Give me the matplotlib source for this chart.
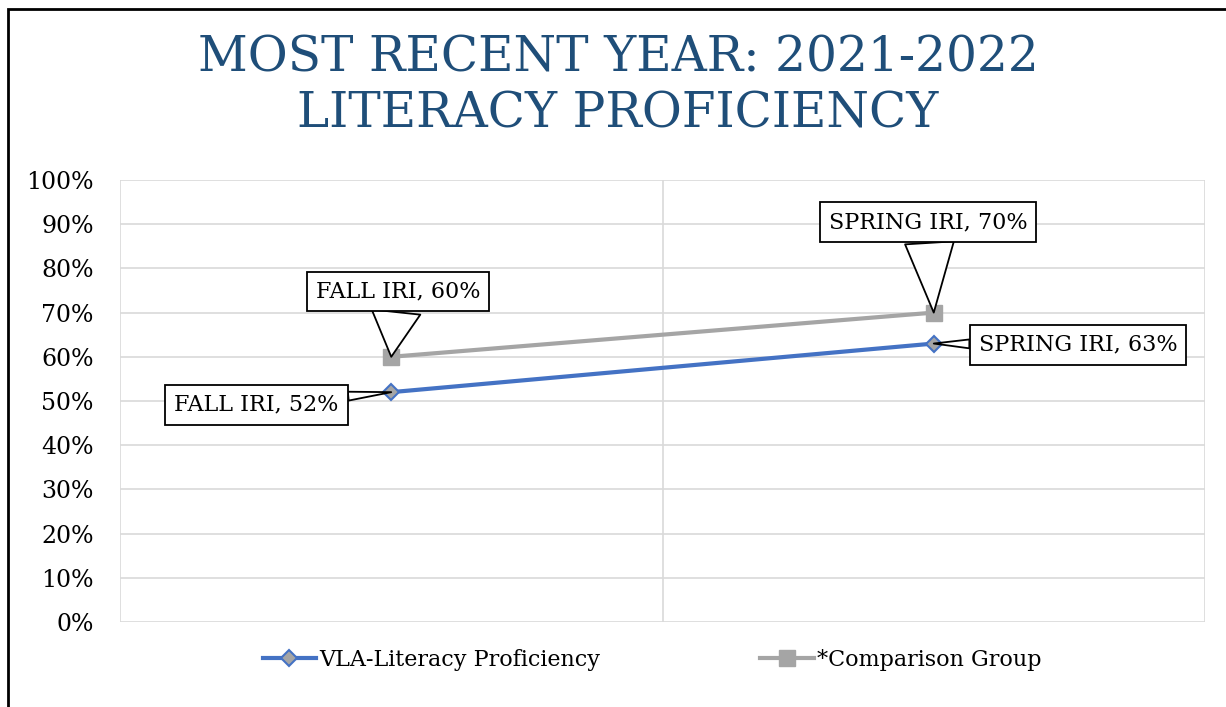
import matplotlib.pyplot as plt
from matplotlib.patches import Rectangle
from matplotlib.ticker import PercentFormatter

categories = ["FALL IRI", "SPRING IRI"]
vla_values = [52, 63]
comparison_values = [60, 70]
series_names = ["VLA-Literacy Proficiency", "*Comparison Group"]

BLUE = "#4472C4"
GRAY = "#A5A5A5"
TITLE = "#1F4E79"

plt.rcParams['font.family'] = ['DejaVu Serif']

fig = plt.figure(figsize=(12.26, 7.07), dpi=100)
ax = fig.add_axes([120 / 1226, 1 - 622 / 707, (1205 - 120) / 1226, (622 - 180) / 707])

x = list(range(len(categories)))
ax.plot(x, vla_values, color=BLUE, lw=3, marker="D", ms=8, mfc=GRAY, mec=BLUE, mew=1.5,
        label=series_names[0], zorder=3)
ax.plot(x, comparison_values, color=GRAY, lw=3, marker="s", ms=11, mfc=GRAY, mec=GRAY,
        label=series_names[1], zorder=3)

ax.set_xlim(-0.5, len(categories) - 0.5)
ax.set_ylim(0, 100)
ax.set_yticks(range(0, 101, 10))
ax.yaxis.set_major_formatter(PercentFormatter(decimals=0))
ax.set_xticks([])
for xv in [-0.5, 0.5, 1.5]:
    ax.axvline(xv, color="#D9D9D9", lw=1.2, zorder=0)
ax.grid(axis="y", color="#D9D9D9", lw=1.2, zorder=0)
for s in ax.spines.values():
    s.set_visible(False)
ax.tick_params(axis="y", length=0, labelsize=17, pad=19)

box = dict(boxstyle="square,pad=0.4", fc="white", ec="black", lw=1.3)

def wedge(w):
    return dict(arrowstyle=f"wedge,tail_width={w},shrink_factor=0.5", fc="white", ec="black",
                lw=1.3, shrinkA=0, shrinkB=0)

offsets_vla = [(-97, -9), (104, -1)]
offsets_cmp = [(5, 47), (-4, 65)]
for i, cat in enumerate(categories):
    ax.annotate(f"{cat}, {vla_values[i]}%", (x[i], vla_values[i]), xytext=offsets_vla[i],
                textcoords="offset points", ha="center", va="center", fontsize=16,
                bbox=box, arrowprops=wedge(0.4), zorder=4)
    ax.annotate(f"{cat}, {comparison_values[i]}%", (x[i], comparison_values[i]),
                xytext=offsets_cmp[i], textcoords="offset points", ha="center", va="center",
                fontsize=16, bbox=box, arrowprops=wedge(2.2), zorder=4)

fig.legend(loc="center", bbox_to_anchor=(652 / 1226, 1 - 660 / 707), ncol=2, frameon=False,
           fontsize=16, columnspacing=7.2, handlelength=2.4, handletextpad=0.15)

fig.text(618 / 1226, 1 - 86 / 707, "MOST RECENT YEAR: 2021-2022\nLITERACY PROFICIENCY",
         ha="center", va="center", fontsize=35, color=TITLE, linespacing=1.25)

fig.patches.append(Rectangle((8 / 1226, -0.1), 1.2, 1.1 - 9 / 707, transform=fig.transFigure,
                             fill=False, ec="black", lw=2, zorder=10))

fig.savefig("out.png", dpi=100)
